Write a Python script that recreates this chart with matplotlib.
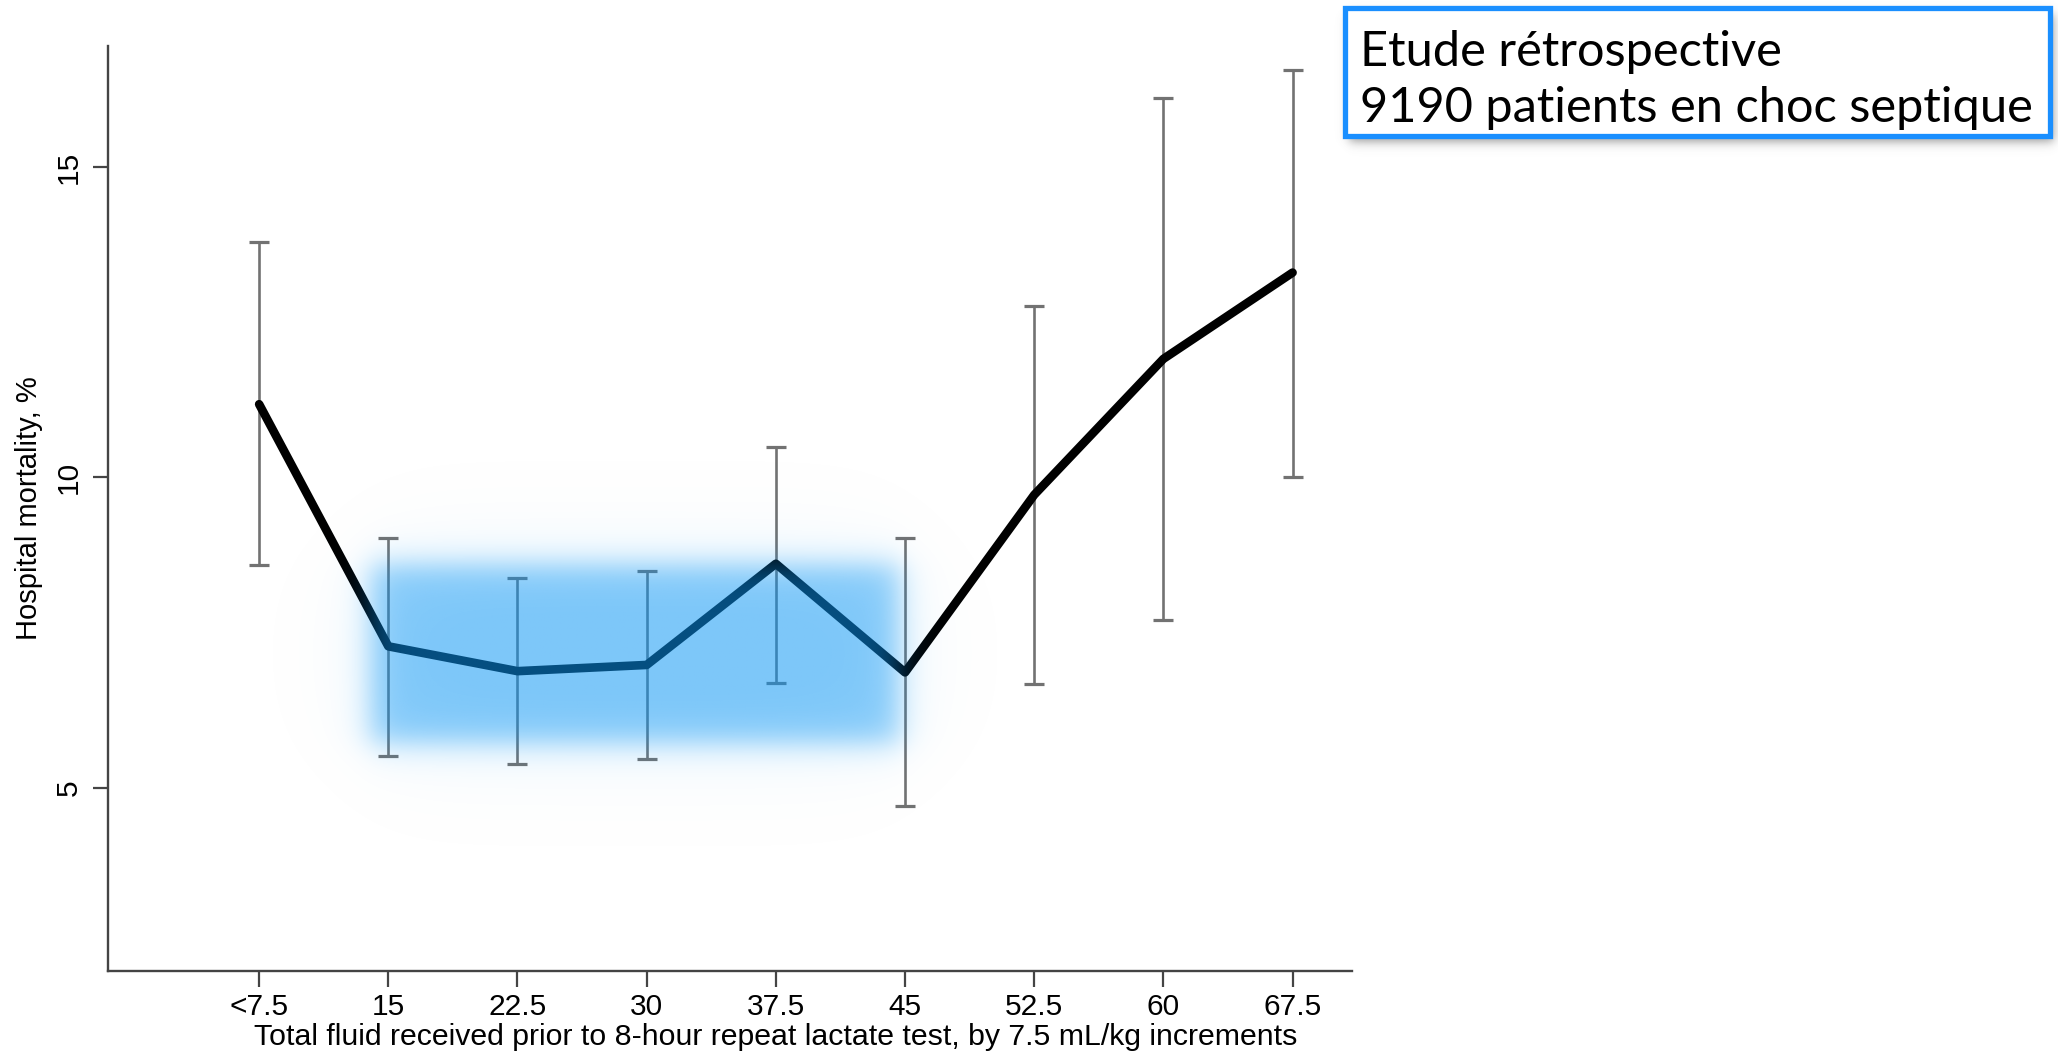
import numpy as np
import matplotlib
matplotlib.use('Agg')
import matplotlib.pyplot as plt
from matplotlib.patches import Rectangle

# ---------------- data ----------------
categories = ['<7.5', '15', '22.5', '30', '37.5', '45', '52.5', '60', '67.5']
mortality = [11.18, 7.28, 6.88, 6.98, 8.61, 6.86, 9.72, 11.91, 13.30]
ci_low = [8.59, 5.51, 5.38, 5.46, 6.69, 4.70, 6.67, 7.71, 10.00]
ci_high = [13.80, 9.03, 8.38, 8.50, 10.49, 9.03, 12.76, 16.12, 16.57]
y_ticks = [5, 10, 15]
x_label = 'Total fluid received prior to 8-hour repeat lactate test, by 7.5 mL/kg increments'
y_label = 'Hospital mortality, %'
box_lines = ['Etude rétrospective', '9190 patients en choc septique']
# highlighted zone (category index range, mortality range)
hl_x = [0.86, 4.95]
hl_y = [5.72, 8.60]

narrow = ['Liberation Sans Narrow', 'Liberation Sans', 'DejaVu Sans']

W, H = 2058, 1054
fig = plt.figure(figsize=(W / 100, H / 100), dpi=100)
L, R, T, B = 108, 1352, 46, 971
ax = fig.add_axes([L / W, 1 - B / H, (R - L) / W, (B - T) / H])

x = np.arange(len(categories))
m = np.array(mortality)
lo = np.array(ci_low)
hi = np.array(ci_high)

ax.errorbar(x, m, yerr=[m - lo, hi - m], fmt='none', ecolor='#727272',
            elinewidth=1.9, capsize=7.5, capthick=2.3, zorder=2)
ax.plot(x, m, color='black', lw=6.2, solid_joinstyle='round',
        solid_capstyle='round', zorder=3)

xlim = (-1.17, 8.46)
ylim = (2.05, 16.95)

# blurred blue highlight overlay
gx = np.linspace(-0.8, 6.5, 1000)
gy = np.linspace(2.5, 11.5, 800)
px_per_x = (R - L) / (xlim[1] - xlim[0])
px_per_y = (B - T) / (ylim[1] - ylim[0])


def soft(v, a, b, s):
    return 1 / (1 + np.exp(-(v - a) / s)) - 1 / (1 + np.exp(-(v - b) / s))


sx_c = soft(gx, hl_x[0], hl_x[1], 9 / px_per_x)
sy_c = soft(gy, hl_y[0], hl_y[1], 9 / px_per_y)
sx_h = soft(gx, hl_x[0], hl_x[1], 35 / px_per_x)
sy_h = soft(gy, hl_y[0], hl_y[1], 35 / px_per_y)
alpha = 0.47 * np.outer(sy_c, sx_c) + 0.08 * np.outer(sy_h, sx_h)
alpha = np.clip(alpha, 0, 0.53)
img = np.zeros((len(gy), len(gx), 4))
img[..., 0] = 10 / 255
img[..., 1] = 150 / 255
img[..., 2] = 245 / 255
img[..., 3] = alpha
ax.imshow(img, extent=[gx[0], gx[-1], gy[0], gy[-1]], origin='lower',
          aspect='auto', zorder=4, interpolation='bilinear')

ax.set_xlim(*xlim)
ax.set_ylim(*ylim)
ax.set_xticks(x)
ax.set_xticklabels(categories, fontsize=21.5, family=narrow)
ax.set_yticks(y_ticks)
ax.set_yticklabels([str(t) for t in y_ticks], fontsize=21.5, family=narrow,
                   rotation=90, va='center')
for s in ['top', 'right']:
    ax.spines[s].set_visible(False)
for s in ['left', 'bottom']:
    ax.spines[s].set_color('#444444')
    ax.spines[s].set_linewidth(1.7)
ax.tick_params(axis='y', length=11, width=1.6, color='#444444', pad=7)
ax.tick_params(axis='x', length=11.5, width=1.6, color='#444444', pad=4)
ax.set_xlabel(x_label, fontsize=21.8, family=narrow, va='center')
ax.xaxis.set_label_coords((591 * 1.3125 - L) / (R - L), (B - 1037) / (B - T))
ax.set_ylabel(y_label, fontsize=21, family=narrow, va='center')
ax.yaxis.set_label_coords((29 - L) / (R - L), 0.5)

# ---------------- annotation box ----------------
oax = fig.add_axes([0, 0, 1, 1], zorder=10)
oax.set_xlim(0, W)
oax.set_ylim(H, 0)
oax.axis('off')
bx0, bx1, by0, by1 = 1345, 2050, 8, 136
# shadow
sxg = np.arange(bx0 - 20, bx1 + 30)
syg = np.arange(by0 - 20, by1 + 30)
shx = soft(sxg, bx0 + 4, bx1 + 4, 3)
shy = soft(syg, by0 + 6, by1 + 6, 3)
sh = np.zeros((len(syg), len(sxg), 4))
sh[..., :3] = 0.35
sh[..., 3] = 0.6 * np.outer(shy, shx)
oax.imshow(sh, extent=[sxg[0], sxg[-1], syg[-1], syg[0]], aspect='auto',
           zorder=1, interpolation='bilinear')
oax.add_patch(Rectangle((bx0, by0), bx1 - bx0, by1 - by0, facecolor='white',
                        edgecolor='#1a8fff', lw=3.8, zorder=2))
box_font = ['Lato', 'DejaVu Sans']
t1 = oax.text(1360, 66, box_lines[0], fontsize=30, family=box_font,
              va='baseline', ha='left', color='black', zorder=3)
t2 = oax.text(1360, 122, box_lines[1], fontsize=30, family=box_font,
              va='baseline', ha='left', color='black', zorder=3)
fig.canvas.draw()
wpx = t2.get_window_extent().width
fs = 30 * 673 / wpx
t1.set_fontsize(fs)
t2.set_fontsize(fs)

fig.savefig('out.png', dpi=100)
